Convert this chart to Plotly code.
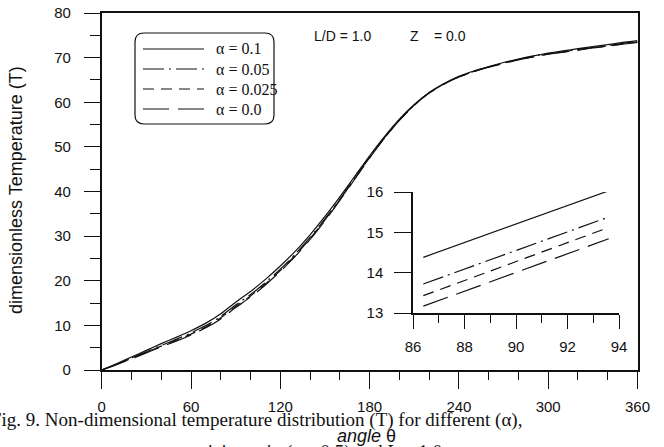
import plotly.graph_objects as go

W, H = 664, 447

# ---------------- data ----------------
theta = [0, 10, 20, 30, 40, 50, 60, 70, 80, 90, 100, 110, 120, 130, 140, 150, 160, 170, 180,
         190, 200, 210, 220, 230, 240, 250, 260, 270, 280, 290, 300, 310, 320, 330, 340, 350, 360]

T_a010 = [0, 1.4, 2.9, 4.4, 5.9, 7.3, 8.8, 10.5, 12.6, 15.2, 17.6, 20.3, 23.3, 26.6, 30.3, 34.4,
          38.8, 43.4, 48.0, 52.3, 56.2, 59.5, 62.2, 64.2, 65.8, 67.0, 68.0, 68.9, 69.7, 70.4,
          71.0, 71.5, 72.0, 72.5, 72.9, 73.4, 73.8]
T_a005 = [0, 1.3, 2.7, 4.1, 5.5, 6.85, 8.3, 9.95, 12.0, 14.55, 16.9, 19.6, 22.6, 25.95, 29.7,
          33.85, 38.3, 43.0, 47.7, 52.1, 56.05, 59.4, 62.1, 64.1, 65.7, 66.9, 67.9, 68.8, 69.6,
          70.3, 70.85, 71.3, 71.8, 72.3, 72.7, 73.2, 73.55]
T_a0025 = [0, 1.25, 2.6, 3.95, 5.35, 6.65, 8.05, 9.65, 11.7, 14.25, 16.6, 19.3, 22.3, 25.65,
           29.45, 33.65, 38.15, 42.9, 47.6, 52.0, 56.0, 59.35, 62.1, 64.1, 65.7, 66.9, 67.9,
           68.75, 69.55, 70.2, 70.8, 71.25, 71.75, 72.2, 72.6, 73.1, 73.45]
T_a000 = [0, 1.2, 2.5, 3.85, 5.2, 6.45, 7.85, 9.45, 11.45, 14.0, 16.35, 19.05, 22.1, 25.45,
          29.25, 33.45, 38.0, 42.75, 47.5, 51.95, 55.95, 59.3, 62.05, 64.05, 65.65, 66.85, 67.85,
          68.7, 69.5, 70.15, 70.75, 71.2, 71.7, 72.15, 72.55, 73.0, 73.4]

# zoomed inset
theta_zoom = [86.4, 90.0, 93.6]
Tz_a010 = [14.38, 15.2, 16.03]
Tz_a005 = [13.72, 14.55, 15.38]
Tz_a0025 = [13.43, 14.27, 15.12]
Tz_a000 = [13.17, 14.0, 14.84]

labels = ["α = 0.1", "α = 0.05", "α = 0.025", "α = 0.0"]
x_ticks = [0, 60, 120, 180, 240, 300, 360]
y_ticks = [0, 10, 20, 30, 40, 50, 60, 70, 80]
xz_ticks = [86, 88, 90, 92, 94]
yz_ticks = [13, 14, 15, 16]

dashes = ["solid", "21px,5px,2px,5px", "11px,7px", "26px,9px"]

# ---------------- figure ----------------
def px(x):
    return x / W

def py(y):
    return 1 - y / H

SANS = "Arial, Liberation Sans, sans-serif"
SERIF = "Times New Roman, Liberation Serif, serif"
INK = "#111111"

fig = go.Figure()
main_series = [T_a010, T_a005, T_a0025, T_a000]
zoom_series = [Tz_a010, Tz_a005, Tz_a0025, Tz_a000]
for lab, ys, d in zip(labels, main_series, dashes):
    fig.add_trace(go.Scatter(x=theta, y=ys, mode="lines", name=lab, showlegend=False,
                             line=dict(color=INK, width=1.2, dash=d, shape="spline", smoothing=0.6),
                             xaxis="x", yaxis="y"))
for lab, ys, d in zip(labels, zoom_series, dashes):
    fig.add_trace(go.Scatter(x=theta_zoom, y=ys, mode="lines", name=lab, showlegend=False,
                             line=dict(color=INK, width=1.2, dash=d),
                             xaxis="x2", yaxis="y2"))

tickfont = dict(family=SANS, size=15, color=INK)

fig.update_layout(
    width=W, height=H,
    margin=dict(l=0, r=0, t=0, b=0),
    paper_bgcolor="white", plot_bgcolor="rgba(0,0,0,0)",
    xaxis=dict(domain=[px(101.7), px(637.5)], range=[0, 360], tickvals=x_ticks,
               ticks="outside", ticklen=17, tickwidth=1.2, tickcolor=INK,
               minor=dict(dtick=20, tick0=0, ticks="outside", ticklen=8, tickwidth=1.2, tickcolor=INK),
               showline=True, linecolor=INK, linewidth=1.5, mirror=True,
               showgrid=False, zeroline=False, tickfont=tickfont, ticklabelstandoff=5,
               automargin=False, anchor="y"),
    yaxis=dict(domain=[py(370), py(13)], range=[0, 80], tickvals=y_ticks,
               ticks="outside", ticklen=16, tickwidth=1.2, tickcolor=INK,
               minor=dict(dtick=5, tick0=0, ticks="outside", ticklen=10, tickwidth=1.2, tickcolor=INK),
               showline=True, linecolor=INK, linewidth=1.5, mirror=True,
               showgrid=False, zeroline=False, tickfont=tickfont, ticklabelstandoff=10,
               automargin=False, anchor="x"),
    xaxis2=dict(domain=[px(413), px(619)], range=[86, 94], tickvals=xz_ticks,
                ticks="outside", ticklen=14, tickwidth=1.2, tickcolor=INK,
                minor=dict(dtick=1, tick0=86, ticks="outside", ticklen=8, tickwidth=1.2, tickcolor=INK),
                showline=True, linecolor=INK, linewidth=1.5, mirror=False,
                showgrid=False, zeroline=False, tickfont=tickfont, ticklabelstandoff=5,
                automargin=False, anchor="y2"),
    yaxis2=dict(domain=[py(313), py(192)], range=[13, 16], tickvals=yz_ticks,
                ticks="outside", ticklen=17, tickwidth=1.2, tickcolor=INK,
                showline=True, linecolor=INK, linewidth=1.5, mirror=False,
                showgrid=False, zeroline=False, tickfont=tickfont, ticklabelstandoff=8,
                automargin=False, anchor="x2"),
    showlegend=False,
)

# ---------------- legend box (drawn) ----------------
x0, x1, y0, y1, r = 135, 274, 33, 124, 9
path = (f"M {px(x0 + r)},{py(y0)} L {px(x1 - r)},{py(y0)} "
        f"Q {px(x1)},{py(y0)} {px(x1)},{py(y0 + r)} "
        f"L {px(x1)},{py(y1 - r)} Q {px(x1)},{py(y1)} {px(x1 - r)},{py(y1)} "
        f"L {px(x0 + r)},{py(y1)} Q {px(x0)},{py(y1)} {px(x0)},{py(y1 - r)} "
        f"L {px(x0)},{py(y0 + r)} Q {px(x0)},{py(y0)} {px(x0 + r)},{py(y0)} Z")
shapes = [dict(type="path", path=path, xref="paper", yref="paper",
               line=dict(color=INK, width=1.2), fillcolor="white", layer="above")]
rows = [49, 69, 89, 109]
annotations = []
for lab, d, ry in zip(labels, dashes, rows):
    shapes.append(dict(type="line", xref="paper", yref="paper",
                       x0=px(143), x1=px(204), y0=py(ry), y1=py(ry),
                       line=dict(color=INK, width=1.2, dash=d), layer="above"))
    annotations.append(dict(text=lab, xref="paper", yref="paper", x=px(214), y=py(ry),
                            xanchor="left", yanchor="middle", showarrow=False,
                            font=dict(family=SERIF, size=16, color=INK)))

# ---------------- texts ----------------
def txt(t, x, y, size, family=SANS, xa="left", ya="middle", angle=0):
    annotations.append(dict(text=t, xref="paper", yref="paper", x=px(x), y=py(y),
                            xanchor=xa, yanchor=ya, showarrow=False, textangle=angle,
                            font=dict(family=family, size=size, color=INK)))

txt("L/D = 1.0", 312, 36, 14)
txt("Z", 408, 36, 14)
txt("= 0.0", 432, 36, 14)
txt("dimensionless Temperature (T)", 16, 190, 18, xa="center", angle=-90)
txt("Fig. 9. Non-dimensional temperature distribution (T) for different (α),", -11, 420, 19,
    family=SERIF)
txt("<i>angle</i> θ", 366, 436, 18, xa="center")
txt("eccentricity ratio (ε = 0.5) and L = 1.0", 297, 452, 19, family=SERIF, xa="center")

fig.update_layout(shapes=shapes, annotations=annotations)
fig.write_html("out.html")
